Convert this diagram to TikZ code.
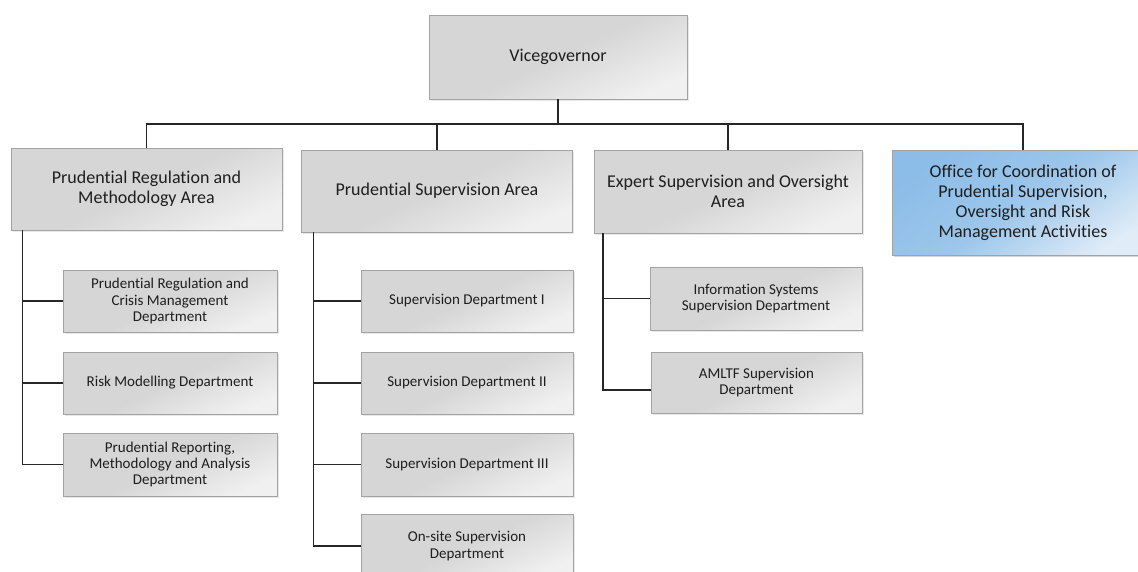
\documentclass[tikz,border=0pt]{standalone}
\usepackage{fontspec}
\setmainfont{Carlito}[Ligatures={NoCommon}]
\usetikzlibrary{shadows}
\definecolor{gdark}{HTML}{D6D6D6}
\definecolor{glight}{HTML}{F0F0F0}
\definecolor{gborder}{HTML}{A3A3A3}
\definecolor{bdark}{HTML}{8CBDE8}
\definecolor{blight}{HTML}{E0ECF7}
\definecolor{txt}{HTML}{1E1E1E}
\tikzset{
  orgbox/.style={draw=gborder, line width=0.9pt, inner sep=0pt, align=center,
    text=txt, top color=gdark, bottom color=glight, middle color=gdark, shading angle=25,
    drop shadow={opacity=0.18, shadow xshift=1.5pt, shadow yshift=-1.5pt}},
  areabox/.style={orgbox, minimum width=271pt, minimum height=82pt, font=\fontsize{18}{20}\selectfont},
  deptbox/.style={orgbox, minimum width=213pt, minimum height=62pt, font=\fontsize{15}{16.3}\selectfont},
  officebox/.style={orgbox, top color=bdark, bottom color=blight, middle color=bdark!80!blight, shading angle=35},
  link/.style={draw=black!85, line width=1.3pt}
}
\begin{document}
\begin{tikzpicture}[x=1pt,y=-1pt]
\path[use as bounding box, clip] (0,0) rectangle (1138,571);
\fill[white] (0,0) rectangle (1138,571);
% top
\node[orgbox, minimum width=258pt, minimum height=84pt, font=\fontsize{18}{20}\selectfont] (vg) at (558,57) {Vicegovernor};
% areas
\node[areabox] (prma) at (146.5,189) {Prudential Regulation and\\Methodology Area};
\node[areabox] (psa) at (437,191) {Prudential Supervision Area};
\node[areabox, minimum width=268pt, minimum height=83pt] (esoa) at (728,191.5) {Expert Supervision and Oversight\\Area};
\node[areabox, officebox, minimum width=262pt, minimum height=105pt] (office) at (1023,202.5) {Office for Coordination of\\Prudential Supervision,\\Oversight and Risk\\Management Activities};
% departments under PRMA
\node[deptbox, minimum width=214pt] (prcm) at (170,301) {Prudential Regulation and\\Crisis Management\\Department};
\node[deptbox, minimum width=214pt] (rmd) at (170,383) {Risk Modelling Department};
\node[deptbox, minimum width=214pt, minimum height=63pt] (prmad) at (170,464.5) {Prudential Reporting,\\Methodology and Analysis\\Department};
% departments under PSA
\node[deptbox, minimum width=212pt] (sd1) at (467,301) {Supervision Department I};
\node[deptbox, minimum width=212pt] (sd2) at (467,383) {Supervision Department II};
\node[deptbox, minimum width=212pt, minimum height=63pt] (sd3) at (467,464.5) {Supervision Department III};
\node[deptbox, minimum width=212pt, minimum height=64pt] (onsite) at (467,546) {On-site Supervision\\Department};
% departments under ESOA
\node[deptbox, minimum width=212pt, minimum height=63pt] (issd) at (756,298.5) {Information Systems\\Supervision Department};
\node[deptbox, minimum width=211pt, minimum height=61pt] (amltf) at (756.5,382.5) {AMLTF Supervision\\Department};
% bus
\coordinate (bus) at (0,124);
\draw[link] (vg.south) -- (vg.south |- bus);
\draw[link] (prma.north) |- (office.north |- bus) -- (office.north);
\draw[link] (psa.north) -- (psa.north |- bus);
\draw[link] (esoa.north) -- (esoa.north |- bus);
% spines
\coordinate (s1) at ([xshift=12pt]prma.south west);
\coordinate (s2) at ([xshift=12.5pt]psa.south west);
\coordinate (s3) at ([xshift=9.5pt]esoa.south west);
\draw[link] (s1) |- (prmad.west);
\draw[link] (prcm.west) -- (prcm.west -| s1);
\draw[link] (rmd.west) -- (rmd.west -| s1);
\draw[link] (s2) |- (onsite.west);
\draw[link] (sd1.west) -- (sd1.west -| s2);
\draw[link] (sd2.west) -- (sd2.west -| s2);
\draw[link] (sd3.west) -- (sd3.west -| s2);
\coordinate (am) at ([yshift=-7.5pt]amltf.west);
\draw[link] (s3) |- (am);
\draw[link] (issd.west) -- (issd.west -| s3);
\end{tikzpicture}
\end{document}
